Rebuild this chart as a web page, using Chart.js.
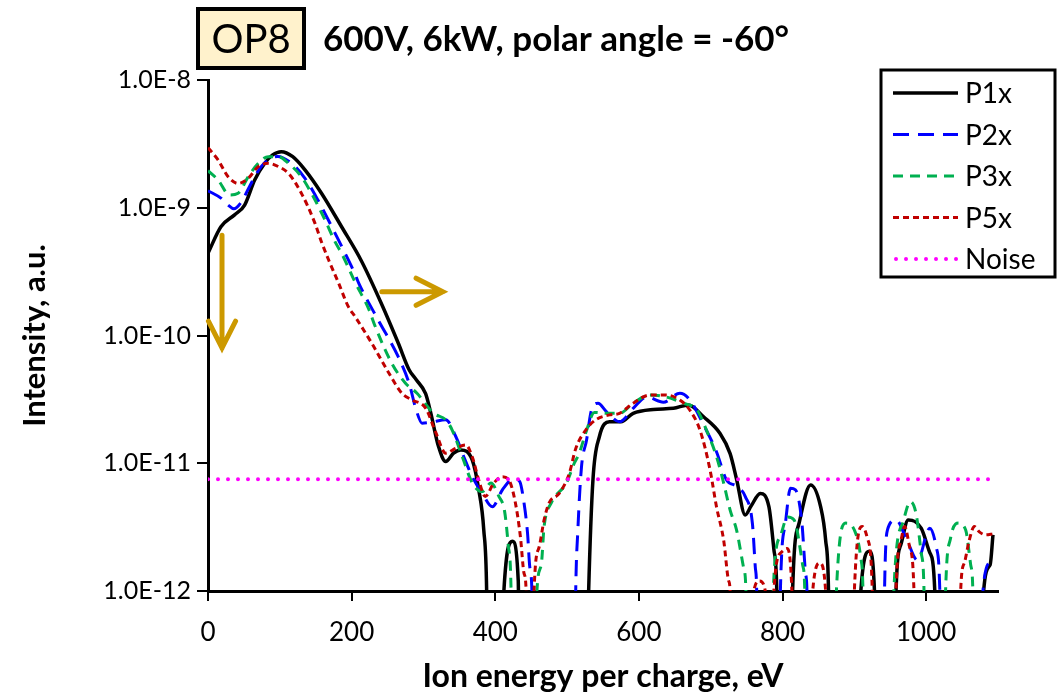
<!DOCTYPE html>
<html>
<head>
<meta charset="utf-8">
<script src="https://cdn.jsdelivr.net/npm/chart.js@4.4.1/dist/chart.umd.min.js"></script>
<style>html,body{margin:0;padding:0;background:#fff;}</style>
</head>
<body>
<canvas id="myChart" width="1064" height="696"></canvas>
<script>
// tick labels
var xTicks = [0, 200, 400, 600, 800, 1000];
var yTicks = [1e-12, 1e-11, 1e-10, 1e-9, 1e-8];
var names = ['P1x', 'P2x', 'P3x', 'P5x', 'Noise'];

// ion energy (eV) and intensity (a.u.); 1e-13 = below the axis
var p1E = [0, 18, 37, 51, 65, 79, 90, 102, 118, 135, 158, 186, 214, 242, 265, 280, 290, 303, 310, 321, 331, 342, 352, 368, 377, 384, 388, 390,
  410, 412, 424, 432, 434, 526, 530, 536, 545, 559, 575, 592, 620, 648, 669, 690, 713, 727, 736, 748, 756, 769, 781, 788, 792, 794,
  812, 814, 823, 839, 853, 860, 864, 866, 907, 909, 921, 928, 930, 956, 958, 965, 975, 993, 1005, 1012, 1014, 1078, 1080, 1089, 1093];
var p1I = [4.4e-10, 7.1e-10, 8.8e-10, 1.05e-9, 1.65e-9, 2.23e-9, 2.59e-9, 2.75e-9, 2.51e-9, 1.98e-9, 1.3e-9, 7.1e-10, 3.8e-10, 1.75e-10, 8.7e-11, 5.4e-11, 4.5e-11, 3.5e-11, 2.5e-11, 1.35e-11, 1.03e-11, 1.2e-11, 1.27e-11, 1.06e-11, 6.2e-12, 3.0e-12, 1.0e-12, 1e-13,
  1e-13, 1e-12, 2.45e-12, 1.2e-12, 1e-13, 1e-13, 1e-12, 7.4e-12, 1.62e-11, 2.11e-11, 2.11e-11, 2.46e-11, 2.64e-11, 2.69e-11, 2.86e-11, 2.31e-11, 1.71e-11, 1.19e-11, 7.5e-12, 3.94e-12, 4.6e-12, 5.8e-12, 4.57e-12, 2.1e-12, 1e-12, 1e-13,
  1e-13, 1e-12, 3.39e-12, 6.76e-12, 4.57e-12, 2.5e-12, 1e-12, 1e-13, 1e-13, 1e-12, 2.05e-12, 1e-12, 1e-13, 1e-13, 1e-12, 2.33e-12, 3.6e-12, 3.1e-12, 2.0e-12, 1e-12, 1e-13, 1e-13, 1e-12, 1.6e-12, 2.75e-12];

var p2E = [0, 18, 28, 36, 46, 60, 74, 88, 97, 116, 135, 153, 177, 186, 205, 210, 237, 265, 280, 290, 298, 312, 331, 345, 356, 368, 382, 396, 410, 426, 434, 440, 445, 448, 451, 453,
  510, 512, 515, 520, 527, 534, 543, 555, 573, 592, 611, 634, 657, 671, 690, 708, 722, 736, 748, 758, 762, 764, 766,
  795, 797, 804, 811, 818, 827, 832, 834, 836, 940, 942, 946, 958, 972, 988, 1005, 1014, 1019, 1021, 1077, 1079, 1090];
var p2I = [1.36e-9, 1.19e-9, 1.05e-9, 0.98e-9, 1.1e-9, 1.55e-9, 2.1e-9, 2.44e-9, 2.52e-9, 2.23e-9, 1.7e-9, 1.15e-9, 6.3e-10, 5.0e-10, 3.0e-10, 2.56e-10, 1.32e-10, 6.8e-11, 4.23e-11, 2.6e-11, 2.06e-11, 2.1e-11, 2.19e-11, 1.62e-11, 1.13e-11, 7.85e-12, 5.8e-12, 4.57e-12, 6.2e-12, 7.6e-12, 7.2e-12, 4.9e-12, 2.8e-12, 1.55e-12, 1e-12, 1e-13,
  1e-13, 1e-12, 3e-12, 9.3e-12, 1.51e-11, 2.61e-11, 2.95e-11, 2.53e-11, 2.11e-11, 2.69e-11, 3.3e-11, 3.0e-11, 3.53e-11, 3.13e-11, 2.0e-11, 1.23e-11, 7.4e-12, 6.6e-12, 5.5e-12, 3.39e-12, 1.55e-12, 1e-12, 1e-13,
  1e-13, 1e-12, 3.39e-12, 6.37e-12, 6.2e-12, 3.39e-12, 1.38e-12, 1e-12, 1e-13, 1e-13, 1e-12, 3e-12, 3.6e-12, 2.6e-12, 1.74e-12, 3.1e-12, 2.2e-12, 1e-12, 1e-13, 1e-13, 1e-12, 1.7e-12];

var p3E = [0, 14, 30, 42, 56, 70, 84, 98, 112, 130, 144, 163, 177, 186, 205, 224, 233, 256, 275, 291, 314, 331, 340, 354, 368, 382, 394, 405, 413, 418, 422, 424,
  455, 458, 464, 468, 478, 499, 510, 517, 527, 538, 555, 573, 592, 615, 638, 662, 681, 694, 708, 718, 727, 736, 746, 749, 751,
  785, 787, 797, 807, 816, 828, 831, 833, 872, 875, 888, 900, 909, 912, 914, 952, 955, 968, 978, 986, 993, 997, 999,
  1024, 1027, 1034, 1045, 1055, 1062, 1065, 1067];
var p3I = [1.95e-9, 1.65e-9, 1.26e-9, 1.3e-9, 1.75e-9, 2.23e-9, 2.51e-9, 2.51e-9, 2.23e-9, 1.75e-9, 1.3e-9, 8.0e-10, 5.4e-10, 4.4e-10, 2.6e-10, 1.6e-10, 1.17e-10, 6.05e-11, 4.23e-11, 3.53e-11, 2.46e-11, 2.19e-11, 1.82e-11, 1.13e-11, 7.0e-12, 6.0e-12, 7.0e-12, 5.5e-12, 4.2e-12, 2.3e-12, 1e-12, 1e-13,
  1e-13, 1e-12, 1.6e-12, 3.2e-12, 4.9e-12, 7.0e-12, 1.0e-11, 1.2e-11, 1.8e-11, 2.5e-11, 2.46e-11, 2.46e-11, 2.95e-11, 3.42e-11, 3.3e-11, 2.95e-11, 2.61e-11, 1.82e-11, 1.13e-11, 7e-12, 4.3e-12, 3.0e-12, 1.5e-12, 1e-12, 1e-13,
  1e-13, 1e-12, 2.7e-12, 3.8e-12, 3.6e-12, 1.6e-12, 1e-12, 1e-13, 1e-13, 1e-12, 3.4e-12, 3.0e-12, 1.8e-12, 1e-12, 1e-13, 1e-13, 1e-12, 3.5e-12, 5.0e-12, 4.0e-12, 2.0e-12, 1e-12, 1e-13,
  1e-13, 1e-12, 2.6e-12, 3.4e-12, 3.0e-12, 1.6e-12, 1e-12, 1e-13];

var p5E = [0, 14, 28, 42, 56, 70, 84, 98, 112, 130, 149, 158, 168, 182, 195, 205, 228, 252, 270, 284, 303, 317, 331, 345, 359, 368, 377, 386, 398, 410, 419, 428, 435, 440, 443, 445,
  452, 454, 461, 468, 475, 489, 503, 512, 526, 540, 559, 573, 592, 615, 638, 657, 671, 685, 699, 708, 718, 725, 727, 729,
  758, 760, 768, 776, 778, 786, 788, 798, 806, 813, 815, 840, 842, 852, 860, 862, 898, 900, 911, 918, 925, 927,
  956, 958, 965, 970, 977, 983, 985, 1046, 1048, 1053, 1060, 1067, 1074, 1083, 1093];
var p5I = [2.95e-9, 2.37e-9, 1.75e-9, 1.55e-9, 1.7e-9, 2.1e-9, 2.23e-9, 2.1e-9, 1.86e-9, 1.3e-9, 7.55e-10, 5.4e-10, 3.9e-10, 2.56e-10, 1.7e-10, 1.4e-10, 8.7e-11, 5.06e-11, 3.53e-11, 3.13e-11, 2.7e-11, 1.75e-11, 1.2e-11, 1.31e-11, 1.39e-11, 1.12e-11, 7.4e-12, 5.5e-12, 7.0e-12, 7.85e-12, 7.4e-12, 4.9e-12, 2.66e-12, 1.38e-12, 1e-12, 1e-13,
  1e-13, 1e-12, 2.2e-12, 3.6e-12, 4.9e-12, 5.8e-12, 8.3e-12, 1.3e-11, 1.82e-11, 2.19e-11, 2.39e-11, 2.46e-11, 2.95e-11, 3.42e-11, 3.42e-11, 3.13e-11, 2.6e-11, 1.82e-11, 8.9e-12, 4.57e-12, 2.5e-12, 1.2e-12, 1e-12, 1e-13,
  1e-13, 1e-12, 1.2e-12, 1e-12, 1e-13, 1e-13, 1e-12, 2.0e-12, 2.15e-12, 1e-12, 1e-13, 1e-13, 1e-12, 1.65e-12, 1e-12, 1e-13, 1e-13, 1e-12, 3.2e-12, 2.6e-12, 1e-12, 1e-13,
  1e-13, 1e-12, 2.5e-12, 3.2e-12, 2.2e-12, 1e-12, 1e-13, 1e-13, 1e-12, 1.65e-12, 2.5e-12, 3.2e-12, 2.9e-12, 2.75e-12, 2.8e-12];

var noiseE = [0, 1090];
var noiseI = [7.5e-12, 7.5e-12];

// arrows drawn on the plot, in data units
var arrows = [
  { x1: 19.5, y1: 6.1e-10, x2: 19.5, y2: 8e-11 },
  { x1: 242, y1: 2.2e-10, x2: 327, y2: 2.2e-10 }
];

function pts(xs, ys) {
  return xs.map(function (x, i) { return { x: x, y: ys[i] }; });
}

Chart.defaults.font.family = 'Lato';
Chart.defaults.color = '#000';

var titlePlugin = {
  id: 'decor',
  afterDatasetsDraw: function (chart) {
    var ctx = chart.ctx;
    var xs = chart.scales.x, ys = chart.scales.y;
    ctx.save();
    // golden arrows
    ctx.strokeStyle = '#CC9900';
    ctx.lineWidth = 5;
    ctx.lineCap = 'round';
    arrows.forEach(function (a) {
      var x1 = xs.getPixelForValue(a.x1), y1 = ys.getPixelForValue(a.y1);
      var x2 = xs.getPixelForValue(a.x2), y2 = ys.getPixelForValue(a.y2);
      var ang = Math.atan2(y2 - y1, x2 - x1);
      ctx.beginPath();
      ctx.moveTo(x1, y1); ctx.lineTo(x2, y2);
      ctx.moveTo(x2 - 30 * Math.cos(ang - 0.47), y2 - 30 * Math.sin(ang - 0.47));
      ctx.lineTo(x2, y2);
      ctx.lineTo(x2 - 30 * Math.cos(ang + 0.47), y2 - 30 * Math.sin(ang + 0.47));
      ctx.stroke();
    });
    ctx.restore();
  },
  afterDraw: function (chart) {
    var ctx = chart.ctx;
    ctx.save();
    // OP8 box
    ctx.fillStyle = '#FFF2CC';
    ctx.fillRect(198, 9, 106, 59);
    ctx.strokeStyle = '#000';
    ctx.lineWidth = 4;
    ctx.strokeRect(198, 9, 106, 59);
    ctx.fillStyle = '#000';
    ctx.textBaseline = 'middle';
    ctx.textAlign = 'center';
    ctx.font = '40px Lato';
    ctx.fillText('OP8', 251, 40);
    ctx.textAlign = 'left';
    ctx.font = 'bold 35px Lato';
    ctx.fillText('600V, 6kW, polar angle = -60°', 323, 40);

    // legend
    ctx.lineWidth = 3;
    ctx.strokeRect(881, 70, 174, 207);
    ctx.font = '28px Lato';
    chart.data.datasets.forEach(function (ds, i) {
      var y = 93 + i * 41.5;
      ctx.beginPath();
      ctx.strokeStyle = ds.borderColor;
      ctx.lineWidth = ds.borderWidth;
      ctx.setLineDash(ds.borderDash || []);
      ctx.lineCap = ds.borderCapStyle || 'butt';
      ctx.moveTo(ds.label === 'Noise' ? 896 : 893, y);
      ctx.lineTo(958, y);
      ctx.stroke();
      ctx.setLineDash([]);
      ctx.fillStyle = '#000';
      ctx.fillText(ds.label, 965, y + 1);
    });
    ctx.restore();
  }
};

var ctx = document.getElementById('myChart').getContext('2d');
var chart = new Chart(ctx, {
  type: 'line',
  data: {
    datasets: [
      { label: names[0], data: pts(p1E, p1I), borderColor: '#000000', borderWidth: 3.5, order: 5 },
      { label: names[1], data: pts(p2E, p2I), borderColor: '#0000FF', borderWidth: 3, borderDash: [16, 9], order: 4 },
      { label: names[2], data: pts(p3E, p3I), borderColor: '#00B050', borderWidth: 3, borderDash: [10, 7], order: 3 },
      { label: names[3], data: pts(p5E, p5I), borderColor: '#C00000', borderWidth: 3, borderDash: [6, 4], order: 2 },
      { label: names[4], data: pts(noiseE, noiseI), borderColor: '#FF00FF', borderWidth: 4, borderDash: [0, 10], borderCapStyle: 'round', order: 1 }
    ]
  },
  options: {
    responsive: false,
    animation: false,
    devicePixelRatio: 1,
    elements: { point: { radius: 0 }, line: { cubicInterpolationMode: 'monotone' } },
    layout: { padding: { left: 10, right: 66, top: 80, bottom: 0 } },
    plugins: { legend: { display: false }, tooltip: { enabled: false } },
    scales: {
      x: {
        type: 'linear',
        min: 0,
        max: 1100,
        afterBuildTicks: function (s) { s.ticks = xTicks.map(function (v) { return { value: v }; }); },
        afterFit: function (s) { s.height = 105; },
        grid: { drawOnChartArea: false, drawTicks: true, tickLength: 10, color: '#000', lineWidth: 2 },
        border: { display: true, color: '#000', width: 3 },
        ticks: { font: { size: 26 }, padding: 16, maxRotation: 0, callback: function (v) { return String(v); } },
        title: { display: true, text: 'Ion energy per charge, eV', font: { size: 32, weight: 'bold' }, padding: { top: 0, bottom: 0 } }
      },
      y: {
        type: 'logarithmic',
        min: 1e-12,
        max: 1e-8,
        afterBuildTicks: function (s) { s.ticks = yTicks.map(function (v) { return { value: v }; }); },
        afterFit: function (s) { s.width = 198; },
        grid: { drawOnChartArea: false, drawTicks: true, tickLength: 11, color: '#000', lineWidth: 2 },
        border: { display: true, color: '#000', width: 3 },
        ticks: {
          font: { size: 25 },
          padding: 6,
          callback: function (v) { return Number(v).toExponential(1).toUpperCase(); }
        },
        title: { display: true, text: 'Intensity, a.u.', font: { size: 31, weight: 'bold' }, padding: { top: 6, bottom: 0 } }
      }
    }
  },
  plugins: [titlePlugin]
});
</script>
</body>
</html>
